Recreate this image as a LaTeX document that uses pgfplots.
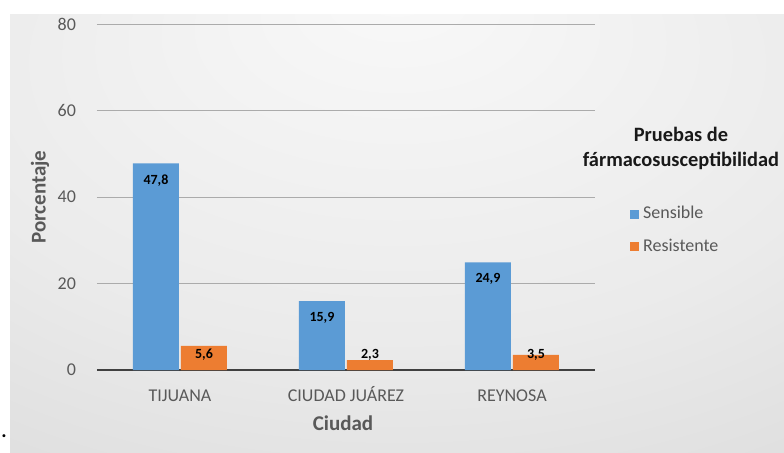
\documentclass[border=0pt]{standalone}
\usepackage{pgfplots}
\usepackage{pgfplotstable}
\pgfplotsset{compat=1.18}
\usepackage{fontspec}
\setmainfont{Carlito}

\definecolor{xlblue}{HTML}{5B9BD5}
\definecolor{xlorange}{HTML}{ED7D31}
\definecolor{txtgray}{HTML}{595959}
\definecolor{gridgray}{HTML}{ABABAB}

\pgfdeclareradialshading{bgshade}{\pgfpoint{0bp}{28bp}}{%
  rgb(0bp)=(0.975,0.975,0.975); rgb(30bp)=(0.92,0.92,0.92); rgb(78bp)=(0.78,0.78,0.78)}

% x = category, y = percent, dy = label shift (pt)
\pgfplotstableread{
x y dy
0 47.8 -8.5
1 15.9 -8.5
2 24.9 -8.5
}\sensible
\pgfplotstableread{
x y dy
0 5.6 -4.5
1 2.3 2.5
2 3.5 0
}\resistente

\begin{document}
\begin{tikzpicture}
\path[use as bounding box] (0,0) rectangle (392pt,226pt);
\shade[shading=bgshade] (5pt,0) rectangle (392pt,219pt);
\node[font=\bfseries] at (2pt,8pt) {.};

\begin{axis}[
  at={(48.5pt,41pt)}, anchor=south west,
  scale only axis,
  width=249pt, height=173pt,
  ybar, bar width=23pt,
  xmin=-0.5, xmax=2.5,
  ymin=0, ymax=80,
  ytick={0,20,40,60,80},
  xtick={0,1,2},
  xticklabels={TIJUANA, CIUDAD JUÁREZ, REYNOSA},
  axis line style={draw=none},
  major tick length=0pt,
  ymajorgrids,
  grid style={gridgray, line width=0.5pt},
  extra y ticks={0},
  extra y tick labels={},
  extra y tick style={grid style={black!75, line width=0.9pt}},
  /pgf/number format/assume math mode=true,
  ticklabel style={text=txtgray, font=\fontsize{9}{10}\selectfont},
  yticklabel style={xshift=-7pt},
  xticklabel style={yshift=-5pt, text height=7pt, text depth=1pt},
  xlabel={Ciudad},
  ylabel={Porcentaje},
  xlabel style={at={(axis description cs:0.494,-0.153)}, anchor=center,
    text=txtgray, font=\bfseries\fontsize{10.5}{12}\selectfont},
  ylabel style={at={(axis description cs:-0.1145,0.5)}, anchor=center,
    text=txtgray, font=\bfseries\fontsize{10.5}{12}\selectfont},
  legend style={at={(axis description cs:1.058,0.497)}, anchor=north west,
    draw=none, fill=none, text=txtgray,
    font=\fontsize{9}{10}\selectfont, row sep=4.5pt},
  legend cell align=left,
  legend image code/.code={\fill[#1] (0pt,-2.2pt) rectangle (4.4pt,2.2pt);},
  nodes near coords,
  visualization depends on={\thisrow{dy} \as \dy},
  every node near coord/.append style={anchor=center, yshift=\dy pt,
    font=\bfseries\fontsize{7}{8}\selectfont, text=black},
  nodes near coords style={/pgf/number format/.cd, use comma, fixed, fixed zerofill, precision=1},
]
\addplot[fill=xlblue, draw=none, bar shift=-12pt] table[x=x, y=y] {\sensible};
\addplot[fill=xlorange, draw=none, bar shift=12pt] table[x=x, y=y] {\resistente};
\legend{Sensible, Resistente}
\end{axis}

\node[align=center, inner sep=0pt, font=\bfseries\fontsize{10.2}{12.5}\selectfont, text=black!90]
  at (340.5pt,152pt) {Pruebas de\\fármacosusceptibilidad};
\end{tikzpicture}
\end{document}
